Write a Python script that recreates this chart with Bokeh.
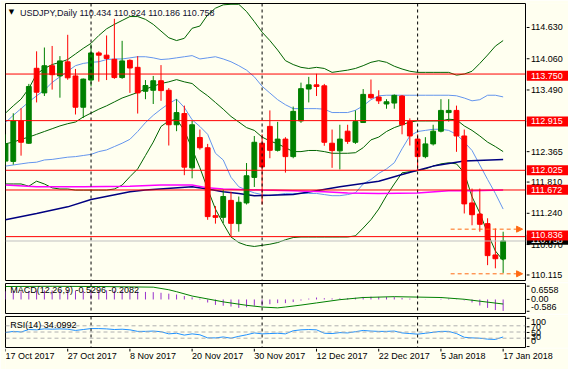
from bokeh.plotting import figure
from bokeh.layouts import column, row
from bokeh.models import ColumnDataSource, Range1d, Span, Label, Arrow, NormalHead
from bokeh.core.properties import value
from bokeh.embed import file_html
from bokeh.resources import INLINE

# ---------------- data ----------------
opens = [112.19, 112.184, 112.910, 112.510, 113.853, 113.412, 113.899, 113.716, 113.968, 113.716,
         113.155, 113.642, 114.128, 114.088, 114.013, 113.687, 113.995, 113.870, 113.441, 113.459,
         113.630, 113.459, 112.841, 113.042, 112.069, 112.613, 112.429, 111.212, 111.182, 111.486,
         111.069, 111.440, 111.898, 112.510, 112.812, 112.383, 112.584, 112.270, 112.910, 113.481,
         113.556, 113.539, 112.510, 112.373, 112.726, 112.527, 112.881, 113.385, 113.338, 113.213,
         113.230, 113.356, 112.898, 112.584, 112.270, 112.498, 112.726, 113.059, 113.098, 112.640,
         111.440, 111.241, 111.069, 110.508, 110.434]
highs = [112.67, 113.047, 113.138, 113.573, 114.157, 114.225, 114.253, 114.071, 114.453, 113.841,
         113.670, 114.282, 114.157, 114.441, 114.740, 114.345, 114.013, 114.071, 113.642, 113.716,
         113.910, 113.498, 113.299, 113.184, 112.910, 112.755, 112.498, 111.383, 111.675, 111.640,
         111.555, 112.155, 112.640, 112.670, 113.098, 112.893, 112.618, 113.167, 113.596, 113.699,
         113.755, 113.573, 112.755, 112.841, 112.841, 113.098, 113.481, 113.652, 113.459, 113.299,
         113.385, 113.373, 112.956, 112.670, 112.618, 112.841, 113.299, 113.299, 113.184, 112.755,
         111.697, 111.697, 111.165, 110.983, 110.924]
lows = [112.126, 112.126, 112.287, 112.498, 113.241, 113.356, 113.471, 113.326, 113.647, 113.025,
        112.961, 113.527, 113.613, 113.642, 113.664, 113.664, 113.412, 113.042, 113.299, 113.213,
        113.270, 112.469, 112.726, 111.937, 111.881, 112.395, 111.138, 111.069, 111.074, 110.834,
        110.925, 111.412, 111.726, 111.412, 112.241, 112.361, 111.983, 112.241, 112.875, 113.241,
        113.356, 112.464, 112.069, 112.040, 112.498, 112.498, 112.875, 113.304, 113.213, 113.128,
        113.128, 112.670, 112.469, 112.013, 112.241, 112.469, 112.704, 112.898, 112.356, 111.251,
        111.040, 110.925, 110.325, 110.268, 110.186]
closes = [112.50, 112.910, 112.527, 113.527, 113.424, 113.899, 113.738, 113.985, 113.682, 113.155,
          113.659, 114.128, 114.088, 114.030, 113.687, 113.985, 113.858, 113.412, 113.544, 113.630,
          113.453, 112.841, 113.059, 112.081, 112.841, 112.429, 111.195, 111.182, 111.555, 111.074,
          111.452, 111.927, 112.527, 112.086, 112.383, 112.584, 112.270, 113.081, 113.488, 113.556,
          113.527, 112.527, 112.378, 112.584, 112.544, 112.898, 113.385, 113.326, 113.270, 113.253,
          113.368, 112.841, 112.640, 112.270, 112.498, 112.726, 113.098, 113.098, 112.640, 111.423,
          111.229, 111.057, 110.496, 110.440, 110.758]

bb_upper = [113.05, 113.18, 113.30, 113.49, 113.75, 113.85, 113.92, 113.96, 114.01, 114.11,
            114.21, 114.30, 114.44, 114.56, 114.64, 114.71, 114.78, 114.78, 114.73, 114.64,
            114.52, 114.40, 114.35, 114.39, 114.57, 114.61, 114.81, 114.93, 114.99, 115.00,
            115.00, 114.87, 114.69, 114.50, 114.35, 114.18, 113.99, 113.92, 113.87, 113.85,
            113.87, 113.85, 113.78, 113.80, 113.82, 113.85, 113.90, 113.96, 113.99, 113.96,
            113.89, 113.84, 113.80, 113.78, 113.78, 113.78, 113.78, 113.78, 113.73, 113.75,
            113.80, 113.94, 114.09, 114.25, 114.35]
bb_middle = [112.50, 112.53, 112.58, 112.62, 112.67, 112.72, 112.77, 112.82, 112.86, 112.89,
             112.98, 113.05, 113.12, 113.18, 113.25, 113.32, 113.37, 113.42, 113.48, 113.53,
             113.58, 113.61, 113.65, 113.61, 113.58, 113.46, 113.36, 113.24, 113.12, 112.99,
             112.89, 112.79, 112.74, 112.62, 112.55, 112.50, 112.43, 112.36, 112.36, 112.38,
             112.38, 112.36, 112.33, 112.33, 112.33, 112.34, 112.43, 112.57, 112.62, 112.72,
             112.79, 112.84, 112.89, 112.91, 112.91, 112.91, 112.91, 112.94, 112.93, 112.82,
             112.74, 112.64, 112.53, 112.45, 112.36]
bb_lower = [111.78, 111.78, 111.78, 111.74, 111.83, 111.78, 111.71, 111.69, 111.69, 111.67,
            111.67, 111.67, 111.67, 111.67, 111.69, 111.76, 111.91, 112.05, 112.29, 112.53,
            112.81, 112.91, 112.94, 112.74, 112.41, 112.07, 111.69, 111.33, 111.07, 110.83,
            110.73, 110.68, 110.66, 110.68, 110.70, 110.73, 110.78, 110.82, 110.83, 110.83,
            110.83, 110.83, 110.83, 110.83, 110.83, 110.85, 110.99, 111.14, 111.33, 111.57,
            111.78, 111.98, 112.00, 112.02, 112.05, 112.10, 112.14, 112.16, 112.14, 111.98,
            111.55, 111.26, 110.90, 110.58, 110.41]
inner_upper = [112.88, 113.01, 113.13, 113.25, 113.36, 113.46, 113.60, 113.70, 113.80, 113.90,
               113.94, 113.96, 113.97, 114.01, 114.02, 114.02, 114.04, 114.06, 114.06, 114.04,
               114.01, 114.02, 114.04, 114.06, 114.08, 114.02, 114.04, 114.06, 114.02, 113.97,
               113.90, 113.82, 113.70, 113.53, 113.41, 113.29, 113.20, 113.13, 113.13, 113.13,
               113.13, 113.12, 113.06, 113.06, 113.06, 113.10, 113.18, 113.29, 113.36, 113.37,
               113.37, 113.37, 113.37, 113.37, 113.37, 113.37, 113.37, 113.37, 113.36, 113.32,
               113.27, 113.29, 113.37, 113.37, 113.34]
inner_lower = [112.10, 112.12, 112.14, 112.16, 112.17, 112.21, 112.22, 112.24, 112.26, 112.27,
               112.29, 112.31, 112.36, 112.39, 112.45, 112.51, 112.58, 112.72, 112.88, 113.01,
               113.12, 113.22, 113.30, 113.15, 112.93, 112.81, 112.67, 112.33, 112.21, 111.90,
               111.73, 111.67, 111.62, 111.59, 111.57, 111.59, 111.61, 111.61, 111.61, 111.61,
               111.61, 111.59, 111.57, 111.57, 111.59, 111.62, 111.78, 111.86, 111.97, 112.05,
               112.16, 112.41, 112.64, 112.72, 112.74, 112.76, 112.76, 112.74, 112.67, 112.53,
               112.38, 112.12, 111.86, 111.61, 111.33]

navy_bars = [0, 4, 8, 11, 16, 18, 24, 26, 28, 30, 32, 37, 40, 43, 48, 51, 55, 59, 64]
navy_ma = [111.14, 111.25, 111.37, 111.50, 111.64, 111.67, 111.73, 111.69, 111.64, 111.61,
           111.57, 111.59, 111.66, 111.73, 111.83, 111.95, 112.10, 112.19, 112.22]
magenta_bars = [0, 4, 10, 16, 20, 24, 26, 28, 33, 37, 41, 44, 48, 53, 57, 60, 64]
magenta_ma = [111.76, 111.73, 111.73, 111.74, 111.76, 111.76, 111.71, 111.69, 111.67, 111.66,
              111.64, 111.62, 111.61, 111.62, 111.66, 111.66, 111.67]

macd_main = [0.38, 0.39, 0.38, 0.40, 0.41, 0.42, 0.42, 0.42, 0.43, 0.41,
             0.40, 0.41, 0.42, 0.42, 0.41, 0.40, 0.39, 0.37, 0.35, 0.34,
             0.31, 0.27, 0.23, 0.16, 0.10, 0.04, -0.14, -0.25, -0.29, -0.33,
             -0.39, -0.36, -0.29, -0.29, -0.22, -0.17, -0.17, -0.12, -0.05, 0.04,
             0.09, 0.06, 0.05, 0.05, 0.06, 0.08, 0.12, 0.13, 0.12, 0.11,
             0.11, 0.07, 0.04, 0.00, -0.01, 0.00, 0.03, 0.04, 0.01, -0.04,
             -0.14, -0.28, -0.39, -0.49, -0.53]
signal_bars = [0, 6, 12, 19, 21, 22, 24, 28, 31, 33, 35, 36, 38, 40, 43, 46, 50, 56, 59, 61, 64]
macd_signal = [0.60, 0.61, 0.60, 0.57, 0.45, 0.36, 0.16, -0.11, -0.27, -0.35, -0.39, -0.35,
               -0.26, -0.16, -0.01, 0.09, 0.13, 0.09, 0.01, -0.08, -0.21]

rsi = [48, 52, 50, 58, 57, 60, 59, 60, 59, 55,
       58, 61, 61, 60, 58, 59, 57, 52, 52, 53,
       51, 44, 46, 40, 44, 41, 31, 31, 34, 30,
       36, 41, 47, 44, 45, 46, 44, 54, 57, 58,
       57, 46, 45, 48, 47, 51, 55, 53, 52, 52,
       53, 47, 45, 43, 46, 49, 52, 52, 45, 33,
       31, 30, 27, 26, 34]
rsi_levels = [70, 50, 30]

date_bars = [0, 8, 16, 24, 32, 40, 48, 56, 64]
date_labels = ["17 Oct 2017", "27 Oct 2017", "8 Nov 2017", "20 Nov 2017", "30 Nov 2017",
               "12 Dec 2017", "22 Dec 2017", "5 Jan 2018", "17 Jan 2018"]
separator_bars = [11, 33, 53]

price_ticks = [110.115, 110.670, 111.240, 111.810, 112.365, 112.920, 113.490, 114.060, 114.630]
levels = [113.750, 112.915, 112.025, 111.672, 110.836]
bid = 110.758
marker_prices = [110.97, 110.17]
marker_bars = [57.25, 66.5]

title_text = "USDJPY,Daily 110.434 110.924 110.186 110.758"
macd_text = "MACD(12,26,9) -0.5296 -0.2082"
rsi_text = "RSI(14) 34.0992"
macd_ticks = [0.6558, 0.0, -0.586]
macd_tick_labels = ["0.6558", "0.00", "-0.586"]
macd_label_pos = [0.453, 0.0, -0.358]
rsi_ticks = [100, 70, 50, 30, 0]
rsi_label_pos = [86.8, 68.1, 49.7, 34.2, 18.7]

# ---------------- style / layout ----------------
BG = "#FFFFF0"
FONT = "Liberation Sans"
FS = "9px"
MAIN_W = 526          # 5 left border + 520 frame + 1 right border
SIDE_W = 42
FRAME_W = 520
XR = Range1d(0, 66.875)
idx = list(range(len(opens)))


def make_fig(h, yr, top, bottom):
    f = figure(width=MAIN_W, height=h, x_range=XR, y_range=yr, output_backend="svg",
               toolbar_location=None, x_axis_location=None, y_axis_location=None,
               min_border_left=5, min_border_right=1, min_border_top=top,
               min_border_bottom=bottom)
    f.background_fill_color = BG
    f.border_fill_color = BG
    f.outline_line_color = "black"
    f.outline_line_width = 1
    f.grid.visible = False
    for s in separator_bars:
        f.add_layout(Span(location=s, dimension="height", line_color="black",
                          line_width=1, line_dash="3 3"))
    return f


def side_fig(h, yr, top, bottom):
    frame_h = h - top - bottom
    k = (yr.end - yr.start) / frame_h
    syr = Range1d(yr.start - bottom * k, yr.end + top * k)
    f = figure(width=SIDE_W, height=h, x_range=Range1d(0, SIDE_W), y_range=syr,
               output_backend="svg", toolbar_location=None, x_axis_location=None,
               y_axis_location=None, min_border_left=0, min_border_right=0,
               min_border_top=0, min_border_bottom=0)
    f.background_fill_color = BG
    f.border_fill_color = BG
    f.outline_line_color = None
    f.grid.visible = False
    return f


def side_ticks(f, ticks, label_pos, labels, color="black"):
    f.segment(x0=[0] * len(ticks), y0=ticks, x1=[3] * len(ticks), y1=ticks,
              line_color="black", line_width=1)
    f.text(x=[4.5] * len(labels), y=label_pos, text=labels, text_font=value(FONT),
           text_font_size=value(FS), text_color=color, text_baseline="middle",
           text_align="left")


def title(f, x, y, text, color="black"):
    f.add_layout(Label(x=x, y=y, text=text, text_font=FONT, text_font_size=FS,
                       text_color=color, text_baseline="middle", text_align="left"))


# ---------------- main price panel ----------------
main_yr = Range1d(110.050, 115.014)
p = make_fig(282, main_yr, 3, 2)

p.add_layout(Span(location=bid, dimension="width", line_color="#C0C0C0", line_width=1))

p.line(idx, bb_upper, line_color="#006400", line_width=1)
p.line(idx, bb_middle, line_color="#006400", line_width=1)
p.line(idx, bb_lower, line_color="#006400", line_width=1)
p.line(idx, inner_upper, line_color="#6495ED", line_width=1)
p.line(idx, inner_lower, line_color="#6495ED", line_width=1)
p.line(navy_bars, navy_ma, line_color="#000080", line_width=1.5)
p.line(magenta_bars, magenta_ma, line_color="#FF00FF", line_width=1.5)

colors = ["#008000" if c >= o else "#FF0000" for o, c in zip(opens, closes)]
src = ColumnDataSource(dict(x=idx, o=opens, h=highs, l=lows, c=closes,
                            top=[max(o, c) for o, c in zip(opens, closes)],
                            bottom=[min(o, c) for o, c in zip(opens, closes)],
                            color=colors))
p.segment(x0="x", y0="l", x1="x", y1="h", line_color="color", line_width=1, source=src)
p.vbar(x="x", width=0.62, top="top", bottom="bottom", fill_color="color",
       line_color="color", line_width=1, source=src)

for lv in levels:
    p.add_layout(Span(location=lv, dimension="width", line_color="#FF0000", line_width=1))

for mp in marker_prices:
    p.add_layout(Arrow(x_start=marker_bars[0], y_start=mp, x_end=marker_bars[1], y_end=mp,
                       line_color="#FF6A13", line_width=1, line_dash="4 3",
                       end=NormalHead(size=6, fill_color="#FF6A13", line_color="#FF6A13")))

p.add_layout(Label(x=0.75, y=114.856, text="\u25BC", text_font="DejaVu Sans",
                   text_font_size="7px", text_color="black", text_baseline="middle",
                   text_align="center"))
title(p, 1.875, 114.848, title_text, color="#101030")

ps = side_fig(282, main_yr, 3, 2)
side_ticks(ps, price_ticks, price_ticks, ["%.3f" % t for t in price_ticks])
ps.rect(x=SIDE_W / 2, y=bid, width=SIDE_W, height=10, height_units="screen",
        fill_color="black", line_color=None)
ps.text(x=[4.5], y=[bid], text=["%.3f" % bid], text_font=value(FONT),
        text_font_size=value(FS), text_color="white", text_baseline="middle")
ps.rect(x=[SIDE_W / 2] * len(levels), y=levels, width=SIDE_W, height=10,
        height_units="screen", fill_color="#FF0000", line_color=None)
ps.text(x=[4.5] * len(levels), y=levels, text=["%.3f" % lv for lv in levels],
        text_font=value(FONT), text_font_size=value(FS), text_color="white",
        text_baseline="middle")

# ---------------- MACD panel ----------------
macd_yr = Range1d(-0.65, 0.74)
m = make_fig(32, macd_yr, 1, 1)
m.segment(x0=idx, y0=[0] * len(idx), x1=idx, y1=macd_main, line_color="#9932CC", line_width=1)
m.line(signal_bars, macd_signal, line_color="#008000", line_width=1)
title(m, 0.625, 0.44, macd_text)
ms = side_fig(32, macd_yr, 1, 1)
side_ticks(ms, macd_ticks, macd_label_pos, macd_tick_labels)

# ---------------- RSI panel ----------------
rsi_yr = Range1d(0, 100)
r = make_fig(34, rsi_yr, 2, 1)
for lv in rsi_levels:
    r.add_layout(Span(location=lv, dimension="width", line_color="#B0B0B0",
                      line_width=1, line_dash="4 3"))
r.line(idx, rsi, line_color="#1E90FF", line_width=1)
title(r, 0.625, 73.2, rsi_text)
rs = side_fig(34, rsi_yr, 2, 1)
side_ticks(rs, rsi_ticks, rsi_label_pos, [str(t) for t in rsi_ticks])

# ---------------- date strip ----------------
DATE_H = 21
d = figure(width=MAIN_W + SIDE_W, height=DATE_H,
           x_range=Range1d(0, 66.875 * (MAIN_W + SIDE_W - 5) / FRAME_W),
           y_range=Range1d(0, DATE_H), output_backend="svg", toolbar_location=None,
           x_axis_location=None, y_axis_location=None, min_border_left=5,
           min_border_right=0, min_border_top=0, min_border_bottom=0)
d.background_fill_color = BG
d.border_fill_color = BG
d.outline_line_color = None
d.grid.visible = False
d.segment(x0=date_bars, y0=[DATE_H] * len(date_bars), x1=date_bars,
          y1=[DATE_H - 3] * len(date_bars), line_color="black", line_width=1)
d.text(x=date_bars, y=[13.5] * len(date_bars), text=date_labels, text_font=value(FONT),
       text_font_size=value(FS), text_color="black", text_baseline="middle", text_align="left")

layout = column(row(p, ps, spacing=0), row(m, ms, spacing=0), row(r, rs, spacing=0), d,
                spacing=0)
open("out.html", "w").write(file_html(layout, INLINE))
